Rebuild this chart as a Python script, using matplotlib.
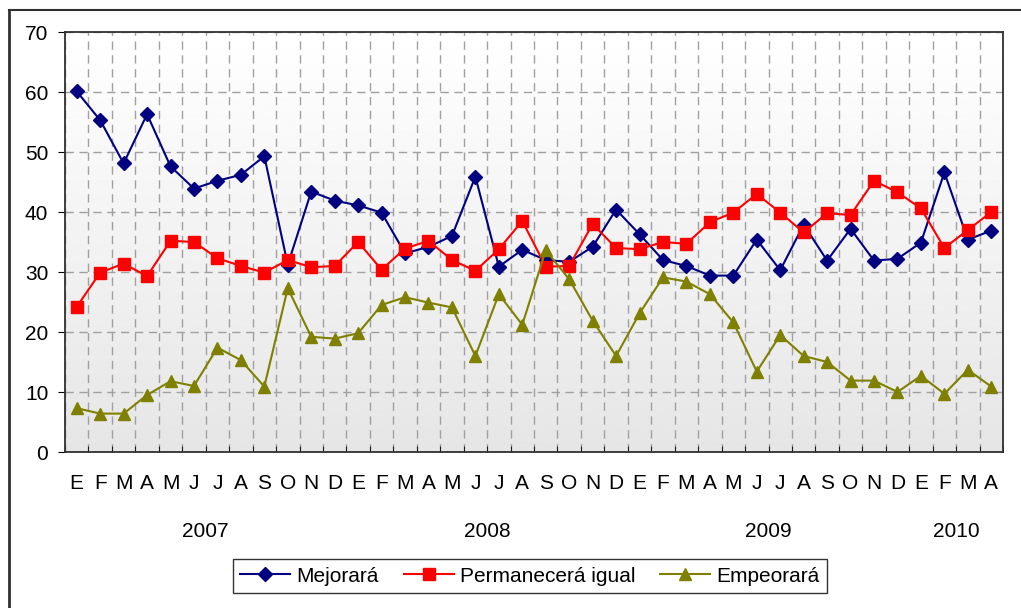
import numpy as np
import matplotlib.pyplot as plt
from matplotlib.lines import Line2D

plt.rcParams["font.family"] = ["Liberation Sans", "DejaVu Sans"]

# Month labels (E=enero ... D=diciembre), Jan 2007 - Apr 2010
months = list("EFMAMJJASOND") * 3 + list("EFMA")
years = ["2007", "2008", "2009", "2010"]
year_centers = [5.5, 17.5, 29.5, 37.5]

mejorara = [60.1, 55.3, 48.1, 56.3, 47.6, 43.9, 45.2, 46.2, 49.3, 31.2,
            43.4, 41.9, 41.1, 39.9, 33.1, 34.2, 36.0, 45.9, 30.9, 33.7,
            32.0, 31.7, 34.2, 40.4, 36.3, 32.0, 31.0, 29.4, 29.4, 35.4,
            30.3, 37.9, 31.9, 37.2, 31.9, 32.2, 34.9, 46.6, 35.4, 36.9]
permanecera = [24.2, 29.9, 31.4, 29.3, 35.2, 35.0, 32.3, 31.0, 29.9, 32.0,
               30.8, 31.0, 35.0, 30.4, 33.9, 35.2, 32.0, 30.2, 33.8, 38.5,
               30.9, 31.0, 38.0, 34.0, 33.8, 35.0, 34.7, 38.3, 39.9, 43.0,
               39.9, 36.6, 39.8, 39.5, 45.2, 43.3, 40.6, 34.0, 37.0, 40.0]
empeorara = [7.3, 6.4, 6.4, 9.5, 11.8, 11.0, 17.4, 15.3, 10.9, 27.3,
             19.2, 18.9, 19.8, 24.5, 25.8, 24.9, 24.1, 16.0, 26.3, 21.2,
             33.6, 28.8, 21.9, 16.0, 23.1, 29.1, 28.4, 26.3, 21.6, 13.4,
             19.5, 16.0, 15.0, 11.9, 11.9, 10.0, 12.7, 9.7, 13.7, 10.9]

x = np.arange(len(months))

fig = plt.figure(figsize=(10.21, 6.08), dpi=100)
ax = fig.add_axes([65 / 1021, 1 - 452 / 608, 938 / 1021, 420 / 608])

# gradient background of the plot area
grad = np.linspace(1.0, 0.9, 256).reshape(-1, 1)
ax.imshow(grad, cmap="gray", vmin=0, vmax=1, aspect="auto",
          extent=[-0.5, len(x) - 0.5, 0, 70], origin="upper", zorder=0)

ax.plot(x, mejorara, color="#000080", marker="D", markersize=7.5, lw=1.5,
        label="Mejorará", zorder=3)
ax.plot(x, permanecera, color="#ff0000", marker="s", markersize=8, lw=1.5,
        label="Permanecerá igual", zorder=3)
ax.plot(x, empeorara, color="#808000", marker="^", markersize=9, lw=1.5,
        label="Empeorará", zorder=3)

ax.set_xlim(-0.5, len(x) - 0.5)
ax.set_ylim(0, 70)
ax.set_yticks(range(0, 71, 10))
ax.set_xticks(x)
ax.set_xticklabels(months, fontsize=15)
ax.set_xticks(np.arange(-0.5, len(x), 1), minor=True)
ax.tick_params(axis="x", which="major", length=0, pad=16)
ax.tick_params(axis="x", which="minor", length=4, direction="in")
ax.tick_params(axis="y", labelsize=15, length=5, pad=7)

ax.grid(axis="y", which="major", color="#a0a0a0", linestyle=(0, (6, 4)), lw=1)
ax.grid(axis="x", which="minor", color="#a0a0a0", linestyle=(0, (6, 4)), lw=1)
ax.set_axisbelow(True)
for s in ax.spines.values():
    s.set_color("#303030")
    s.set_linewidth(1.3)

for yr, xc in zip(years, year_centers):
    ax.text(xc, -0.19, yr, transform=ax.get_xaxis_transform(),
            ha="center", va="center", fontsize=15)

leg = fig.legend(loc="center", bbox_to_anchor=(530 / 1021, 1 - 576 / 608),
                 ncol=3, fontsize=15, frameon=True, fancybox=False,
                 handlelength=2.4, handletextpad=0.3, columnspacing=1.2,
                 borderpad=0.35)
leg.get_frame().set_edgecolor("black")
leg.get_frame().set_linewidth(1)

# outer chart border (left and top edges visible)
fig.add_artist(Line2D([9 / 1021, 9 / 1021], [0, 1 - 10 / 608],
                      color="#303030", lw=2))
fig.add_artist(Line2D([9 / 1021, 1], [1 - 10 / 608, 1 - 10 / 608],
                      color="#303030", lw=1.5))

fig.savefig("out.png", dpi=100)
